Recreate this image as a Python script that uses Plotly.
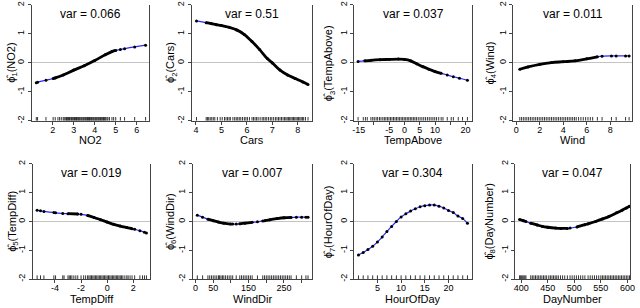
import plotly.graph_objects as go

# ---------------- data ----------------
no2_x = [1.22, 1.28, 1.68, 2.02, 2.12, 2.5, 3.0, 3.5, 4.0, 4.5, 4.82, 5.0, 5.22, 5.42, 5.9, 6.42]
no2_y = [-0.69, -0.67, -0.6, -0.54, -0.52, -0.42, -0.25, -0.1, 0.08, 0.28, 0.39, 0.43, 0.46, 0.49, 0.55, 0.61]
no2_rug = [1.22, 1.28, 1.68, 2.02, 2.12, 2.25, 2.33, 2.41, 2.5, 2.55, 2.62, 2.66, 2.71, 2.75, 2.8, 2.86,
           2.9, 2.95, 3.0, 3.04, 3.09, 3.13, 3.17, 3.22, 3.26, 3.3, 3.35, 3.39, 3.44, 3.48, 3.53, 3.57,
           3.62, 3.66, 3.7, 3.75, 3.79, 3.84, 3.88, 3.93, 3.97, 4.02, 4.06, 4.1, 4.15, 4.19, 4.24, 4.28,
           4.33, 4.38, 4.42, 4.47, 4.52, 4.58, 4.63, 4.7, 4.82, 4.9, 5.0, 5.22, 5.42, 5.9, 6.42]

cars_x = [4.02, 4.4, 4.6, 4.8, 5.0, 5.3, 5.6, 5.9, 6.2, 6.5, 6.8, 7.0, 7.3, 7.6, 7.9, 8.2, 8.4]
cars_y = [1.45, 1.39, 1.36, 1.32, 1.29, 1.23, 1.14, 0.98, 0.74, 0.46, 0.15, 0.0, -0.25, -0.42, -0.54, -0.66, -0.75]
cars_rug = [4.02, 4.4, 4.45, 4.5, 4.56, 4.62, 4.68, 4.74, 4.84, 4.95, 5.03, 5.12, 5.18, 5.24, 5.3, 5.35,
            5.45, 5.52, 5.58, 5.64, 5.7, 5.76, 5.83, 5.9, 5.96, 6.02, 6.1, 6.2, 6.26, 6.32, 6.38, 6.44,
            6.52, 6.6, 6.66, 6.72, 6.78, 6.85, 6.92, 6.98, 7.05, 7.12, 7.18, 7.24, 7.3, 7.36, 7.42, 7.48,
            7.53, 7.58, 7.63, 7.68, 7.73, 7.78, 7.83, 7.88, 7.93, 7.98, 8.03, 8.08, 8.13, 8.18, 8.23, 8.3, 8.4]

temp_x = [-15.2, -13, -11, -8, -5, -2, 0, 2, 4, 6, 8, 10, 12, 14, 16, 18, 20.6]
temp_y = [0.05, 0.07, 0.09, 0.11, 0.12, 0.13, 0.12, 0.07, -0.03, -0.13, -0.22, -0.30, -0.36, -0.42, -0.48, -0.53, -0.60]
temp_rug = [-15.2, -13.5, -12.8, -12.2, -11, -10.4, -9.9, -9.3, -8.8, -8.2, -7.7, -7.1, -6.6, -6.1, -5.6,
            -5.1, -4.6, -4.1, -3.6, -3.1, -2.6, -2.1, -1.6, -1.1, -0.6, -0.1, 0.4, 0.9, 1.4, 1.9, 2.4,
            2.9, 3.4, 3.9, 4.5, 5.1, 5.7, 6.3, 6.9, 7.5, 8.1, 8.7, 9.3, 9.9, 10.5, 11.2, 12.0, 12.6,
            14.0, 15.3, 16.0, 17.6, 19.0, 20.6]

wind_x = [0.3, 1, 2, 3, 4, 5, 6, 6.9, 7.3, 8.1, 8.5, 9.3, 9.6]
wind_y = [-0.22, -0.14, -0.05, 0.01, 0.04, 0.07, 0.14, 0.21, 0.23, 0.24, 0.24, 0.24, 0.24]
wind_rug = [0.3, 0.45, 0.6, 0.75, 0.9, 1.05, 1.2, 1.35, 1.5, 1.65, 1.8, 1.95, 2.1, 2.25, 2.4, 2.55, 2.7,
            2.85, 3.0, 3.15, 3.3, 3.45, 3.6, 3.75, 3.9, 4.05, 4.2, 4.35, 4.5, 4.65, 4.8, 4.95, 5.1, 5.3,
            5.5, 5.7, 5.9, 6.1, 6.3, 6.5, 6.9, 7.3, 8.1, 8.5, 9.3, 9.6]

tdiff_x = [-5.36, -5.1, -4.84, -4.08, -3.95, -3.4, -3.0, -2.25, -2.0, -1.5, -1.0, -0.5, 0, 0.5, 1.0, 1.5,
           1.9, 2.1, 2.5, 2.85, 3.0]
tdiff_y = [0.39, 0.37, 0.35, 0.31, 0.30, 0.28, 0.27, 0.26, 0.25, 0.21, 0.14, 0.06, -0.02, -0.10, -0.16,
           -0.21, -0.25, -0.27, -0.32, -0.37, -0.40]
tdiff_rug = [-5.36, -5.1, -4.84, -4.08, -3.95, -3.4, -3.3, -3.0, -2.9, -2.8, -2.7, -2.55, -2.4, -2.25,
             -2.0, -1.8, -1.65, -1.5, -1.4, -1.3, -1.2, -1.1, -1.0, -0.9, -0.8, -0.7, -0.6, -0.5, -0.4,
             -0.3, -0.2, -0.1, 0.0, 0.1, 0.2, 0.3, 0.4, 0.5, 0.6, 0.7, 0.8, 0.9, 1.0, 1.1, 1.2, 1.35,
             1.5, 1.6, 1.75, 1.9, 2.1, 2.5, 2.7, 2.85, 3.0]

wdir_x = [5, 20, 35, 50, 65, 80, 100, 105, 115, 125, 140, 160, 175, 190, 195, 210, 230, 250, 270, 285,
          300, 312, 318]
wdir_y = [0.22, 0.15, 0.08, 0.03, -0.02, -0.06, -0.09, -0.09, -0.09, -0.08, -0.06, -0.03, -0.01, 0.02,
          0.03, 0.06, 0.10, 0.13, 0.14, 0.15, 0.15, 0.15, 0.15]
wdir_rug = [5, 20, 35, 40, 45, 50, 55, 60, 65, 68, 72, 76, 80, 85, 90, 95, 100, 105, 115, 125, 130, 135,
            140, 145, 150, 155, 160, 175, 190, 195, 200, 205, 210, 215, 220, 225, 230, 235, 240, 245,
            250, 255, 260, 265, 270, 285, 300, 312, 318]

hour_x = [1, 2, 3, 4, 5, 6, 7, 8, 9, 10, 11, 12, 13, 14, 15, 16, 17, 18, 19, 20, 21, 22, 23, 24]
hour_y = [-1.16, -1.08, -0.97, -0.86, -0.71, -0.54, -0.35, -0.17, 0.0, 0.16, 0.27, 0.36, 0.44, 0.51,
          0.55, 0.57, 0.57, 0.53, 0.47, 0.38, 0.31, 0.19, 0.10, -0.06]
hour_rug = [1, 2, 3, 4, 5, 6, 7, 8, 9, 10, 11, 12, 13, 14, 15, 16, 17, 18, 19, 20, 21, 22, 23, 24]

day_x = [397, 404, 409, 418, 430, 440, 450, 465, 475, 487, 492, 505, 520, 526, 540, 553, 565, 580, 590,
         598, 604]
day_y = [0.07, 0.03, 0.0, -0.06, -0.12, -0.17, -0.20, -0.23, -0.24, -0.24, -0.23, -0.19, -0.11, -0.08,
         0.0, 0.09, 0.17, 0.30, 0.39, 0.47, 0.53]
day_rug = [397, 399, 401, 403, 405, 407, 409, 418, 421, 424, 427, 430, 433, 436, 439, 442, 445, 448, 452,
           455, 458, 461, 464, 467, 470, 474, 478, 482, 487, 492, 496, 500, 504, 508, 512, 516, 520, 526,
           530, 534, 538, 542, 546, 550, 553, 556, 559, 562, 565, 568, 571, 574, 577, 580, 583, 586, 589,
           592, 595, 598, 601, 604]

var_labels = ["0.066", "0.51", "0.037", "0.011", "0.019", "0.007", "0.304", "0.047"]
var_names = ["NO2", "Cars", "TempAbove", "Wind", "TempDiff", "WindDir", "HourOfDay", "DayNumber"]

# labelled ticks and unlabelled (minor) ticks per panel
tick_vals = [
    [2, 3, 4, 5, 6],
    [4, 5, 6, 7, 8],
    [-15, -5, 0, 5, 10, 20],
    [0, 2, 4, 6, 8],
    [-4, -2, 0, 2],
    [0, 50, 150, 250],
    [5, 10, 15, 20],
    [400, 450, 500, 550, 600],
]
tick_text = [
    ["2", "3", "4", "5", "6"],
    ["4", "5", "6", "7", "8"],
    ["-15", "-5", "0", "5", "10", "20"],
    ["0", "2", "4", "6", "8"],
    ["-4", "-2", "0", "2"],
    ["0", "50", "150", "250"],
    ["5", "10", "15", "20"],
    ["400", "450", "500", "550", "600"],
]
unlabelled_ticks = [[], [], [-10, 15], [], [], [100, 200, 300], [], []]

# ---------------- layout / style ----------------
W, H = 640, 308
FONT = "Liberation Sans, Arial, sans-serif"
x_ranges = [[1.0, 6.6], [3.84, 8.54], [-16.5, 22.2], [-0.25, 9.85],
            [-5.7, 3.3], [-7.5, 328], [0.08, 24.92], [389, 605]]
x_px = [(30, 149), (192, 313), (356, 475.5), (517, 637),
        (31, 150), (193, 313), (356, 475), (519, 635)]
row_px = [(1, 119.5), (163.6, 281.5)]
ylab_px = [10, 171, 331, 494, 11.5, 171.5, 331.5, 493.5]
black_ranges = [
    [(1.95, 5.0)],
    [(4.4, 8.4)],
    [(-13, 12)],
    [(0.3, 6.9)],
    [(-3.0, -2.25), (-1.5, 1.9)],
    [(35, 100), (125, 160), (195, 270)],
    [],
    [(397, 409), (418, 487), (505, 604)],
]
curves = [(no2_x, no2_y, no2_rug), (cars_x, cars_y, cars_rug), (temp_x, temp_y, temp_rug),
          (wind_x, wind_y, wind_rug), (tdiff_x, tdiff_y, tdiff_rug), (wdir_x, wdir_y, wdir_rug),
          (hour_x, hour_y, hour_rug), (day_x, day_y, day_rug)]

BLUE = "#2a2aff"
fig = go.Figure()
annotations = []
RUG_LEN = 0.13

for i, (cx, cy, rug) in enumerate(curves):
    k = "" if i == 0 else str(i + 1)
    xa, ya = "x" + k, "y" + k
    # blue fitted line
    fig.add_trace(go.Scatter(x=cx, y=cy, xaxis=xa, yaxis=ya, mode="lines",
                             line=dict(color=BLUE, width=1.2, shape="spline"),
                             hoverinfo="skip", showlegend=False))
    # black (dense data) parts
    for lo, hi in black_ranges[i]:
        sx = [a for a in cx if lo <= a <= hi]
        sy = [b for a, b in zip(cx, cy) if lo <= a <= hi]
        fig.add_trace(go.Scatter(x=sx, y=sy, xaxis=xa, yaxis=ya, mode="lines",
                                 line=dict(color="black", width=2.8, shape="spline"),
                                 hoverinfo="skip", showlegend=False))
    # data dots
    fig.add_trace(go.Scatter(x=cx, y=cy, xaxis=xa, yaxis=ya, mode="markers",
                             marker=dict(color="black", size=3),
                             hoverinfo="skip", showlegend=False))
    # rug
    rx, ry = [], []
    for r in rug:
        rx += [r, r, None]
        ry += [-2, -2 + RUG_LEN, None]
    fig.add_trace(go.Scatter(x=rx, y=ry, xaxis=xa, yaxis=ya, mode="lines",
                             line=dict(color="black", width=0.8),
                             hoverinfo="skip", showlegend=False))

    row = 0 if i < 4 else 1
    x0, x1 = x_px[i]
    t, b = row_px[row]
    dom_x = [x0 / W, x1 / W]
    dom_y = [1 - b / H, 1 - t / H]
    axis_common = dict(showline=True, linecolor="#444", linewidth=1, ticks="outside",
                       ticklen=3, tickwidth=1, tickcolor="#444", showgrid=False,
                       tickfont=dict(family=FONT, size=9, color="black"))
    xdict = dict(domain=dom_x, range=x_ranges[i], anchor=ya,
                 tickmode="array", tickvals=tick_vals[i], ticktext=tick_text[i],
                 ticklabelstandoff=-3, zeroline=False, mirror=False, **axis_common)
    if unlabelled_ticks[i]:
        xdict["minor"] = dict(tickmode="array", tickvals=unlabelled_ticks[i], ticks="outside",
                              ticklen=3, tickwidth=1, tickcolor="#444", showgrid=False)
    fig.layout["xaxis" + k] = xdict
    fig.layout["yaxis" + k] = dict(domain=dom_y, range=[-2, 2], anchor=xa,
                                   tickvals=[-2, -1, 0, 1, 2],
                                   ticktext=["-2", "-1", "0", "1", "2"], tickangle=-90,
                                   zeroline=True, zerolinecolor="#c4c4c4", zerolinewidth=1,
                                   mirror=True, **axis_common)
    # var title
    annotations.append(dict(text="var = " + var_labels[i], xref=xa + " domain", x=0.5,
                            yref=ya, y=1.68, showarrow=False, xanchor="center", yanchor="middle",
                            font=dict(family=FONT, size=12, color="black")))
    # x title
    annotations.append(dict(text=var_names[i], xref="paper", x=(x0 + x1) / 2 / W,
                            yref="paper", y=1 - (b + 20) / H, showarrow=False,
                            xanchor="center", yanchor="middle",
                            font=dict(family=FONT, size=11, color="black")))
    # y title
    annotations.append(dict(text="\u03d5\u0302<sub>%d</sub>(%s)" % (i + 1, var_names[i]),
                            xref="paper", x=ylab_px[i] / W, yref="paper",
                            y=1 - (t + b) / 2 / H, textangle=-90, showarrow=False,
                            xanchor="center", yanchor="middle",
                            font=dict(family=FONT, size=11, color="black")))

fig.update_layout(width=W, height=H, margin=dict(l=0, r=0, t=0, b=0),
                  paper_bgcolor="white", plot_bgcolor="white",
                  annotations=annotations, font=dict(family=FONT))
fig.write_html("out.html", config={"displayModeBar": False},
               post_script="document.body.style.margin='0';document.body.style.overflow='hidden';")
